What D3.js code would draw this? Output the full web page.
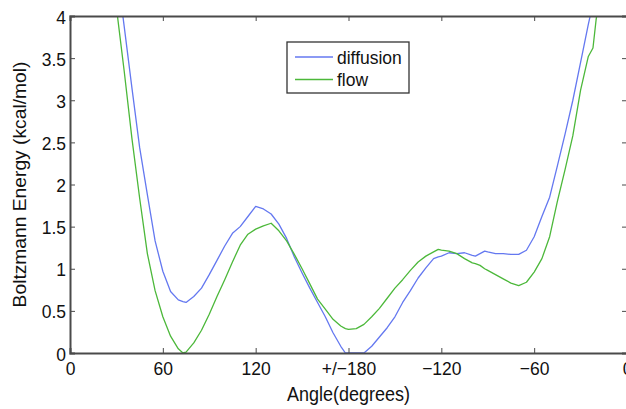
<!DOCTYPE html>
<html>
<head>
<meta charset="utf-8">
<script src="https://cdn.jsdelivr.net/npm/d3@7"></script>
<style>
  body { margin: 0; background: #fff; }
  text { font-family: "Liberation Sans", Arial, Helvetica, sans-serif; fill: #111; }
</style>
</head>
<body>
<svg id="chart" width="626" height="409"></svg>
<script>
// Angle (deg, 0..360 where 180 = +/-180) and energies
const angles = [25, 30, 35, 40, 45, 50, 55, 60, 65, 70, 73, 75, 80, 85, 90, 95, 100, 105, 110, 115,
  120, 125, 130, 135, 140, 145, 150, 155, 160, 165, 170, 175, 178, 180, 185, 190, 195, 200, 205, 210,
  215, 220, 225, 230, 235, 238, 240, 245, 250, 255, 260, 262, 265, 268, 270, 275, 280, 285, 290, 295,
  300, 305, 310, 315, 320, 325, 330, 335, 338, 340, 345];

const diffusion = [5.3, 4.6, 3.88, 3.15, 2.44, 1.88, 1.33, 0.97, 0.73, 0.63, 0.61, 0.6, 0.67, 0.77, 0.93, 1.1, 1.27, 1.42, 1.5, 1.62,
  1.74, 1.71, 1.65, 1.53, 1.36, 1.14, 0.95, 0.77, 0.6, 0.43, 0.24, 0.08, 0.0, 0.0, 0.0, 0.0, 0.08, 0.19, 0.3, 0.43,
  0.6, 0.74, 0.89, 1.01, 1.12, 1.14, 1.15, 1.19, 1.18, 1.19, 1.16, 1.15, 1.18, 1.21, 1.2, 1.18, 1.18, 1.17, 1.17, 1.22,
  1.38, 1.62, 1.85, 2.22, 2.6, 3.0, 3.45, 3.9, 4.15, 4.4, 5.0];

const flow = [4.85, 4.1, 3.35, 2.55, 1.84, 1.18, 0.74, 0.43, 0.2, 0.05, 0.0, 0.01, 0.12, 0.27, 0.46, 0.67, 0.87, 1.08, 1.28, 1.41,
  1.47, 1.51, 1.54, 1.45, 1.33, 1.17, 1.0, 0.82, 0.64, 0.52, 0.4, 0.32, 0.29, 0.28, 0.29, 0.34, 0.43, 0.53, 0.65, 0.77,
  0.87, 0.98, 1.08, 1.15, 1.2, 1.23, 1.22, 1.21, 1.18, 1.12, 1.07, 1.06, 1.04, 1.0, 0.98, 0.93, 0.88, 0.83, 0.8, 0.84,
  0.96, 1.12, 1.38, 1.8, 2.18, 2.58, 3.12, 3.52, 3.62, 3.95, 4.6];

const xTicks = [0, 60, 120, 180, 240, 300, 360];
const xTickLabels = ["0", "60", "120", "+/\u2212180", "\u2212120", "\u221260", "0"];
const yTicks = [0, 0.5, 1, 1.5, 2, 2.5, 3, 3.5, 4];

const seriesNames = ["diffusion", "flow"];
const seriesColors = ["#6478f0", "#4cb83a"];

const W = 626, H = 409;
const margin = { top: 16, right: -1, bottom: 56, left: 70 };
const FONT = 17.5;
const STRETCH = 1.1; // the picture text is a little taller than wide

const svg = d3.select("#chart");

const x = d3.scaleLinear().domain([0, 360]).range([margin.left, W - margin.right]);
const y = d3.scaleLinear().domain([0, 4]).range([H - margin.bottom, margin.top]);

// clip the curves at the plot box
svg.append("clipPath").attr("id", "clip")
  .append("rect")
  .attr("x", x(0)).attr("y", y(4))
  .attr("width", x(360) - x(0)).attr("height", y(0) - y(4));

const line = d3.line()
  .x((d) => x(d[0]))
  .y((d) => y(d[1]));

const series = [diffusion, flow];
const g = svg.append("g").attr("clip-path", "url(#clip)");
series.forEach((vals, i) => {
  g.append("path")
    .datum(angles.map((a, j) => [a, vals[j]]))
    .attr("fill", "none")
    .attr("stroke", seriesColors[i])
    .attr("stroke-width", 1.3)
    .attr("stroke-linejoin", "round")
    .attr("d", line);
});

// axes (matlab style box, ticks pointing inward)
const axisColor = "#4a4a4a";

const xAxis = svg.append("g")
  .attr("transform", `translate(0,${y(0)})`)
  .call(d3.axisBottom(x).tickValues(xTicks).tickSize(-5).tickFormat((d, i) => xTickLabels[i]));

xAxis.selectAll("text")
  .attr("y", null).attr("dy", null)
  .attr("transform", `translate(0,22) scale(1,${STRETCH})`)
  .style("font-size", FONT + "px");

const xTop = svg.append("g")
  .attr("transform", `translate(0,${y(4)})`)
  .call(d3.axisTop(x).tickValues(xTicks).tickSize(-5).tickFormat(""));

const yAxis = svg.append("g")
  .attr("transform", `translate(${x(0)},0)`)
  .call(d3.axisLeft(y).tickValues(yTicks).tickSize(-5).tickFormat(d3.format("~g")));

yAxis.selectAll("text")
  .attr("x", null).attr("dy", null)
  .attr("transform", `translate(-4,7) scale(1,${STRETCH})`)
  .style("font-size", FONT + "px");

const yRight = svg.append("g")
  .attr("transform", `translate(${x(360)},0)`)
  .call(d3.axisRight(y).tickValues(yTicks).tickSize(-5).tickFormat(""));

[xAxis, xTop, yAxis, yRight].forEach((a) => {
  a.select(".domain").attr("stroke", axisColor).attr("stroke-width", 2);
  a.selectAll(".tick line").attr("stroke", axisColor).attr("stroke-width", 1);
  a.selectAll("text").attr("fill", "#111").attr("font-family", null);
});

// axis titles
svg.append("text")
  .attr("text-anchor", "middle")
  .attr("transform", `translate(${(x(0) + x(360)) / 2},401) scale(1,${STRETCH})`)
  .style("font-size", "18px")
  .text("Angle(degrees)");

svg.append("text")
  .attr("text-anchor", "middle")
  .attr("transform", `translate(26,${(y(0) + y(4)) / 2}) rotate(-90) scale(${STRETCH},1)`)
  .style("font-size", FONT + "px")
  .text("Boltzmann Energy (kcal/mol)");

// legend
const leg = svg.append("g").attr("transform", "translate(287,42)");
leg.append("rect")
  .attr("width", 122).attr("height", 51)
  .attr("fill", "#fff").attr("stroke", "#333").attr("stroke-width", 1.3);

seriesNames.forEach((name, i) => {
  const ly = 15 + i * 22.5;
  leg.append("line")
    .attr("x1", 8).attr("x2", 46)
    .attr("y1", ly).attr("y2", ly)
    .attr("stroke", seriesColors[i]).attr("stroke-width", 1.3);
  leg.append("text")
    .attr("transform", `translate(50,${ly + 6.5}) scale(1,${STRETCH})`)
    .style("font-size", FONT + "px")
    .text(name);
});
</script>
</body>
</html>
